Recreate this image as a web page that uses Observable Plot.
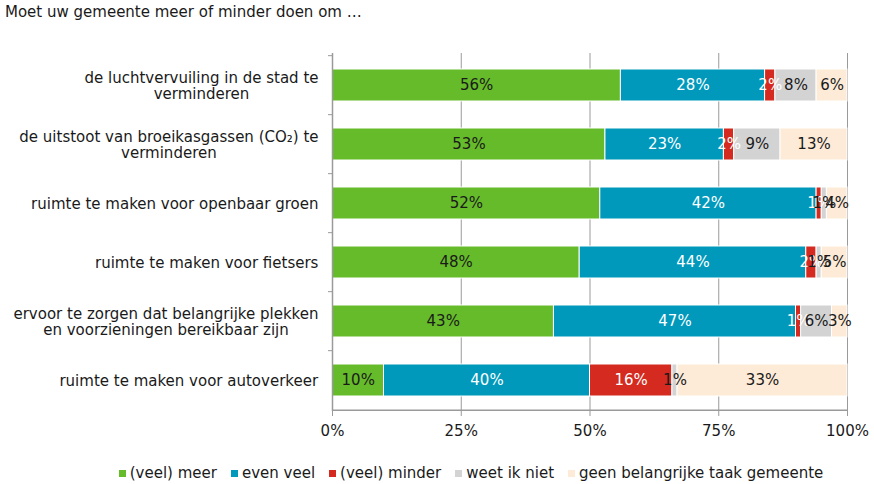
<!DOCTYPE html>
<html>
<head>
<meta charset="utf-8">
<script src="https://cdn.jsdelivr.net/npm/d3@7"></script>
<script src="https://cdn.jsdelivr.net/npm/@observablehq/plot@0.6"></script>
<style>
  body { margin: 0; background: #fff; font-family: Verdana, "DejaVu Sans", sans-serif; }
  #title { font-size: 15px; color: #1a1a1a; padding: 3px 0 0 5px; height: 21px; box-sizing: border-box; }
  #legend { display: flex; justify-content: center; gap: 14px; font-size: 15px; color: #1a1a1a; margin-top: 19px; padding-left: 68px; }
  #legend span.sw { display: inline-block; width: 7px; height: 7px; margin-right: 4px; vertical-align: 1px; }
</style>
</head>
<body>
<div id="title">Moet uw gemeente meer of minder doen om …</div>
<div id="chart"></div>
<div id="legend"></div>
<script>
const categories = [
  "de luchtvervuiling in de stad te\nverminderen",
  "de uitstoot van broeikasgassen (CO₂) te\nverminderen",
  "ruimte te maken voor openbaar groen",
  "ruimte te maken voor fietsers",
  "ervoor te zorgen dat belangrijke plekken\nen voorzieningen bereikbaar zijn",
  "ruimte te maken voor autoverkeer"
];
const answers = ["(veel) meer", "even veel", "(veel) minder", "weet ik niet", "geen belangrijke taak gemeente"];
const meer     = [56, 53, 52, 48, 43, 10];
const evenVeel = [28, 23, 42, 44, 47, 40];
const minder   = [2, 2, 1, 2, 1, 16];
const weetNiet = [8, 9, 1, 1, 6, 1];
const geenTaak = [6, 13, 4, 5, 3, 33];
const xTicks = [0, 25, 50, 75, 100];

const colors = ["#66bb2a", "#0099bb", "#d42a1f", "#d3d3d3", "#fdebd7"];
const textColors = ["#1a1a1a", "#ffffff", "#ffffff", "#1a1a1a", "#1a1a1a"];

const series = [meer, evenVeel, minder, weetNiet, geenTaak];
const data = [];
categories.forEach((c, i) => {
  answers.forEach((a, j) => {
    data.push({category: c, answer: a, value: series[j][i]});
  });
});

const W = 874, H = 424, mt = 32, mb = 34, ml = 332, mr = 27;
const step = (H - mt - mb) / categories.length;
const grey = "#9a9a9a";
const font = 'Verdana, "DejaVu Sans", sans-serif';

const chart = Plot.plot({
  width: W,
  height: H,
  marginTop: mt,
  marginBottom: mb,
  marginLeft: ml,
  marginRight: mr,
  style: {fontFamily: font, fontSize: "15px", color: "#1a1a1a", background: "white"},
  x: {domain: [0, 100], label: null},
  y: {domain: categories, paddingInner: 0.46, paddingOuter: 0.23, label: null},
  color: {domain: answers, range: colors},
  marks: [
    Plot.gridX(xTicks.slice(1), {stroke: grey, strokeOpacity: 1}),
    Plot.barX(data, Plot.stackX({
      x: "value", y: "category", fill: "answer", z: "answer", order: answers,
      stroke: "white", strokeWidth: 1
    })),
    Plot.text(data, Plot.stackX({
      x: "value", y: "category", z: "answer", order: answers,
      text: d => d.value + "%",
      fill: d => textColors[answers.indexOf(d.answer)],
      fontSize: 15
    })),
    Plot.ruleX([0], {stroke: grey, strokeWidth: 1.5}),
    Plot.ruleY([0], {y: () => categories[categories.length - 1], dy: step / 2, stroke: grey, strokeWidth: 1.5, x1: 0, x2: 100}),
    Plot.axisX({ticks: xTicks, tickFormat: d => d + "%", tickSize: 5, tickPadding: 9, stroke: grey, fontSize: 15, fill: "#1a1a1a", label: null}),
    Plot.axisY({text: null, tickSize: 4, dy: -step / 2, stroke: grey, label: null}),
    Plot.axisY({tickSize: 0, tickPadding: 14, fontSize: 15, lineHeight: 1.08, fill: "#1a1a1a", label: null})
  ]
});
document.getElementById("chart").appendChild(chart);

// center multi-line y labels relative to each other, right edge kept at the axis label position
chart.querySelectorAll('g[aria-label="y-axis tick label"] text').forEach(t => {
  const w = t.getBBox().width;
  t.setAttribute("text-anchor", "middle");
  const tr = t.getAttribute("transform") || "";
  t.setAttribute("transform", tr + ` translate(${-w / 2},0)`);
});

const legend = document.getElementById("legend");
answers.forEach((a, j) => {
  const item = document.createElement("div");
  item.innerHTML = `<span class="sw" style="background:${colors[j]}"></span>${a}`;
  legend.appendChild(item);
});
</script>
</body>
</html>
